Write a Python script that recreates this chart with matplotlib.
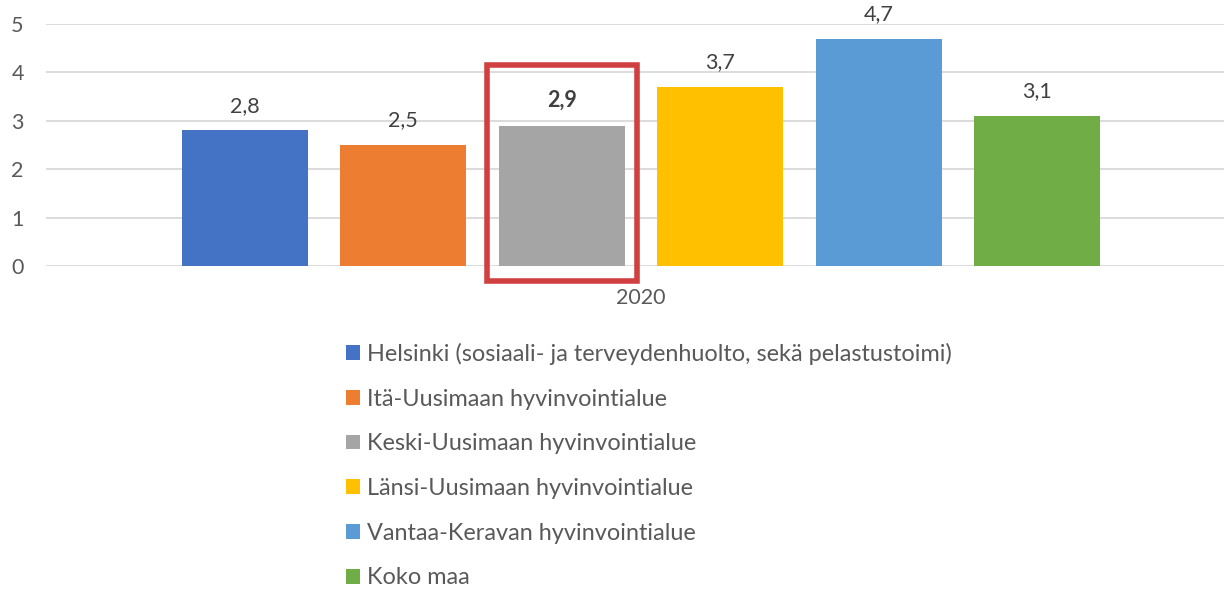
import matplotlib.pyplot as plt
from matplotlib.patches import Rectangle, Patch

plt.rcParams["font.family"] = ["Lato", "DejaVu Sans"]

regions = [
    "Helsinki (sosiaali- ja terveydenhuolto, sekä pelastustoimi)",
    "Itä-Uusimaan hyvinvointialue",
    "Keski-Uusimaan hyvinvointialue",
    "Länsi-Uusimaan hyvinvointialue",
    "Vantaa-Keravan hyvinvointialue",
    "Koko maa",
]
values = [2.8, 2.5, 2.9, 3.7, 4.7, 3.1]
labels = ["2,8", "2,5", "2,9", "3,7", "4,7", "3,1"]
colors = ["#4472C4", "#ED7D31", "#A5A5A5", "#FFC000", "#5B9BD5", "#70AD47"]
year = "2020"
highlight = 2

W, H = 1224, 589
fig = plt.figure(figsize=(W / 100, H / 100), dpi=100)
ax = fig.add_axes([46 / W, 1 - 266 / H, (W - 46) / W, (266 - 24) / H])

x = list(range(len(values)))
width = 0.795
ax.bar(x, values, width=width, color=colors, zorder=2)

for i, (v, lab) in enumerate(zip(values, labels)):
    ax.text(i, v + 0.3, lab, ha="center", va="bottom", fontsize=15.5,
            color="#404040", fontweight="bold" if i == highlight else "normal")

ax.set_xlim(-1.254, 6.178)
ax.set_ylim(0, 5)
ax.set_yticks(range(0, 6))
ax.yaxis.grid(True, color="#D9D9D9", linewidth=1.3, zorder=0)
ax.set_xticks([])
ax.tick_params(axis="y", length=0, labelsize=15.5, labelcolor="#595959", pad=16)
for s in ax.spines.values():
    s.set_visible(False)

ax.text(2.5, -0.66, year, ha="center", va="center", fontsize=15.5, color="#595959")

# red highlight box around the selected bar
rect = Rectangle((highlight - 0.472, -0.31), 0.944, 4.46, fill=False,
                 edgecolor="#D04040", linewidth=4, clip_on=False, zorder=3)
ax.add_patch(rect)

handles = [Patch(facecolor=c, edgecolor="none") for c in colors]
fig.legend(handles, regions, loc="upper left", bbox_to_anchor=(334 / W, 1 - 331 / H),
           frameon=False, fontsize=16.9, labelcolor="#595959", handlelength=0.6,
           handleheight=0.6, handletextpad=0.3, labelspacing=1.01, borderpad=0)

fig.savefig("out.png", dpi=100)
